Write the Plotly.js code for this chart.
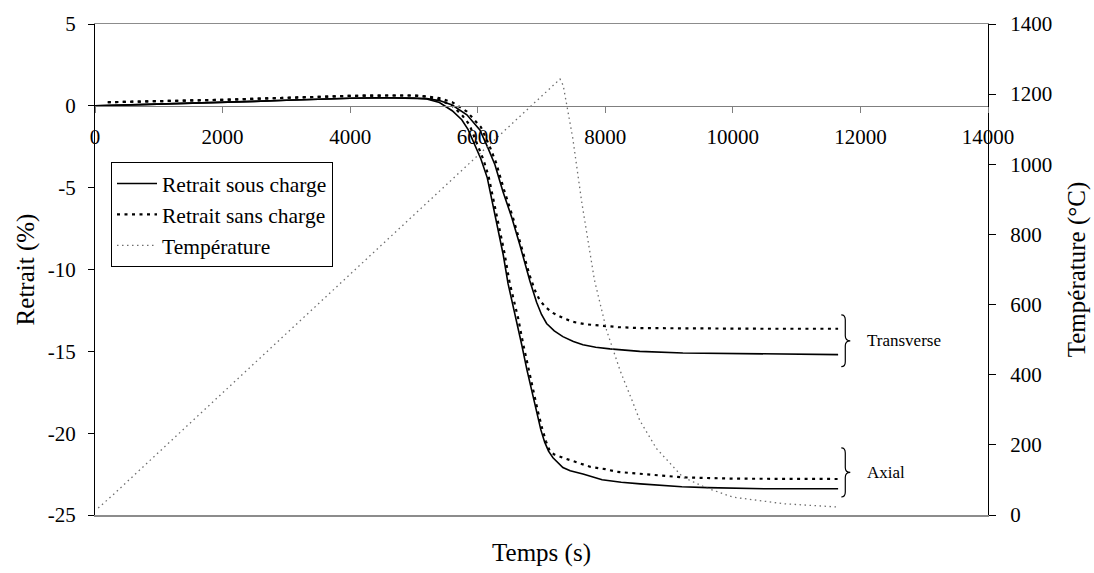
<!DOCTYPE html>
<html>
<head>
<meta charset="utf-8">
<script src="https://cdn.plot.ly/plotly-3.0.1.min.js"></script>
<style>html,body{margin:0;padding:0;background:#fff;}#chart{width:1094px;height:573px;}</style>
</head>
<body>
<div id="chart"></div>
<script>
// ---- Data ----
const tAxialSous = [0, 500, 1000, 1500, 2000, 2500, 3000, 3500, 4000, 4500, 5000, 5200, 5400, 5600, 5750, 5850, 5950, 6050, 6150, 6225, 6300, 6400, 6475, 6550, 6610, 6690, 6770, 6850, 6920, 6990, 7050, 7110, 7180, 7250, 7335, 7450, 7650, 7950, 8250, 8550, 8900, 9200, 9600, 10000, 10500, 11000, 11650];
const retraitAxialSous = [0, 0.05, 0.1, 0.14, 0.2, 0.27, 0.34, 0.41, 0.46, 0.49, 0.48, 0.42, 0.2, -0.3, -0.85, -1.45, -2.3, -3.25, -4.4, -5.8, -7.25, -9.1, -10.85, -12.1, -13.1, -14.6, -16.1, -17.5, -18.7, -19.8, -20.55, -21.1, -21.5, -21.8, -22.1, -22.3, -22.5, -22.85, -23.0, -23.1, -23.2, -23.27, -23.33, -23.38, -23.4, -23.4, -23.4];

const tTransSous = [0, 500, 1000, 1500, 2000, 2500, 3000, 3500, 4000, 4500, 5000, 5200, 5400, 5600, 5830, 6034, 6160, 6270, 6395, 6536, 6661, 6766, 6818, 6923, 7000, 7080, 7200, 7335, 7500, 7649, 7850, 8072, 8542, 9216, 10266, 11650];
const retraitTransSous = [0, 0.05, 0.1, 0.14, 0.2, 0.27, 0.34, 0.41, 0.46, 0.49, 0.48, 0.44, 0.32, 0.05, -0.55, -1.47, -2.57, -3.6, -5.23, -6.85, -8.5, -10.0, -10.7, -12.0, -12.75, -13.3, -13.75, -14.1, -14.4, -14.6, -14.75, -14.85, -15.0, -15.1, -15.15, -15.2];

const tTransSans = [200, 500, 1000, 1500, 2000, 2500, 3000, 3500, 4000, 4500, 5000, 5200, 5400, 5600, 5830, 6050, 6180, 6290, 6410, 6550, 6680, 6818, 6900, 6975, 7080, 7179, 7330, 7492, 7700, 7915, 8200, 8542, 9500, 10500, 11650];
const retraitTransSans = [0.22, 0.24, 0.28, 0.32, 0.37, 0.43, 0.5, 0.56, 0.61, 0.63, 0.63, 0.58, 0.47, 0.22, -0.35, -1.3, -2.4, -3.5, -5.1, -6.8, -8.5, -10.4, -11.3, -11.9, -12.35, -12.65, -12.95, -13.2, -13.35, -13.44, -13.52, -13.58, -13.62, -13.62, -13.62];

const tAxialSans = [200, 500, 1000, 1500, 2000, 2500, 3000, 3500, 4000, 4500, 5000, 5200, 5400, 5600, 5750, 5870, 5980, 6090, 6170, 6245, 6325, 6420, 6500, 6570, 6635, 6710, 6790, 6870, 6945, 7010, 7070, 7131, 7200, 7335, 7550, 7759, 8000, 8181, 8542, 9216, 10000, 11650];
const retraitAxialSans = [0.22, 0.24, 0.28, 0.32, 0.37, 0.43, 0.5, 0.56, 0.61, 0.63, 0.63, 0.55, 0.38, 0.0, -0.55, -1.15, -2.2, -3.3, -4.3, -5.75, -7.2, -9.0, -10.8, -12.0, -13.0, -14.5, -16.0, -17.4, -18.7, -19.7, -20.5, -21.1, -21.3, -21.5, -21.8, -22.05, -22.2, -22.36, -22.48, -22.7, -22.78, -22.8];

const tTemp = [50, 280, 1000, 2000, 3000, 4000, 5000, 6000, 7000, 7290, 7340, 7400, 7490, 7630, 7760, 7830, 8020, 8230, 8430, 8540, 8800, 9215, 9590, 10000, 10800, 11630];
const temperature = [20, 57, 179, 348, 517, 686, 855, 1024, 1194, 1243, 1225, 1168, 1075, 893, 751, 670, 527, 413, 322, 270, 190, 108, 77, 51, 32, 23];

const seriesNames = ['Retrait sous charge', 'Retrait sans charge', 'Température'];
const groupLabels = ['Transverse', 'Axial'];
const xTickVals = [0, 2000, 4000, 6000, 8000, 10000, 12000, 14000];
const xTickText = ['0', '2000', '4000', '6000', '8000', '10000', '12000', '14000'];
const yTickVals = [5, 0, -5, -10, -15, -20, -25];
const yTickText = ['5', '0', '-5', '-10', '-15', '-20', '-25'];
const y2TickVals = [0, 200, 400, 600, 800, 1000, 1200, 1400];
const y2TickText = ['0', '200', '400', '600', '800', '1000', '1200', '1400'];
const xRange = [0, 14000];
const yRange = [-25, 5];
const y2Range = [0, 1400];

// ---- Styling ----
const FONT = 'Liberation Serif, Times New Roman, serif';
const W = 1094, H = 573;
const M = {l: 95, r: 106, t: 24, b: 58};
const plotW = W - M.l - M.r, plotH = H - M.t - M.b;
const pxX = (xRange[1] - xRange[0]) / plotW;
const pxY = (yRange[1] - yRange[0]) / plotH;

const solid = {color: '#000', width: 1.6};
const dotted = {color: '#000', width: 2.2, dash: '3px,4.5px'};
const tempLine = {color: '#6e6e6e', width: 1.3, dash: '1.5px,3.5px'};

const traces = [
  {x: tAxialSous, y: retraitAxialSous, name: seriesNames[0], legendgroup: 'sous', mode: 'lines', line: solid, showlegend: true},
  {x: tTransSous, y: retraitTransSous, name: seriesNames[0], legendgroup: 'sous', mode: 'lines', line: solid, showlegend: false},
  {x: tAxialSans, y: retraitAxialSans, name: seriesNames[1], legendgroup: 'sans', mode: 'lines', line: dotted, showlegend: true},
  {x: tTransSans, y: retraitTransSans, name: seriesNames[1], legendgroup: 'sans', mode: 'lines', line: dotted, showlegend: false},
  {x: tTemp, y: temperature, name: seriesNames[2], mode: 'lines', line: tempLine, xaxis: 'x2', yaxis: 'y2'}
];

function bracePath(x0, yTop, yBot) {
  const w = 4 * pxX, tip = 9 * pxX, r = 5 * pxY;
  const xm = x0 + w, ym = (yTop + yBot) / 2;
  return `M${x0},${yTop} Q${xm},${yTop} ${xm},${yTop - r} L${xm},${ym + r} Q${xm},${ym} ${x0 + tip},${ym} ` +
         `Q${xm},${ym} ${xm},${ym - r} L${xm},${yBot + r} Q${xm},${yBot} ${x0},${yBot}`;
}
const braceX = 11700;
const braces = [[-12.77, -15.94], [-20.9, -23.9]];

const tickFont = {family: FONT, size: 21, color: '#000'};
const titleFont = {family: FONT, size: 25, color: '#000'};

const layout = {
  width: W, height: H,
  margin: M,
  paper_bgcolor: '#fff', plot_bgcolor: '#fff',
  font: {family: FONT, color: '#000'},
  showlegend: true,
  legend: {
    x: 16 / plotW, y: 1 - (162 - M.t) / plotH, xanchor: 'left', yanchor: 'top',
    bordercolor: '#000', borderwidth: 1, bgcolor: '#fff',
    font: {family: FONT, size: 21.5, color: '#000'}, tracegroupgap: 0, itemwidth: 40
  },
  xaxis: {
    range: xRange, tickmode: 'array', tickvals: xTickVals, ticktext: xTickText,
    anchor: 'free', position: (0 - yRange[0]) / (yRange[1] - yRange[0]),
    showline: true, linecolor: '#7f7f7f', linewidth: 1.5,
    ticks: 'outside', ticklen: 6, tickcolor: '#7f7f7f', tickwidth: 1,
    showgrid: false, zeroline: false, tickfont: tickFont, ticklabelstandoff: 5,
    automargin: false
  },
  xaxis2: {
    range: xRange, overlaying: 'x', anchor: 'y2', side: 'bottom',
    showline: true, mirror: true, linecolor: '#8c8c8c', linewidth: 1.5,
    ticks: '', showticklabels: false, showgrid: false, zeroline: false,
    title: {text: 'Temps (s)', font: titleFont, standoff: 28},
    automargin: false
  },
  yaxis: {
    range: yRange, tickmode: 'array', tickvals: yTickVals, ticktext: yTickText,
    showline: true, linecolor: '#000', linewidth: 1,
    ticks: 'outside', ticklen: 6, tickcolor: '#000',
    showgrid: false, zeroline: false, tickfont: tickFont, ticklabelstandoff: 8,
    title: {text: 'Retrait (%)', font: titleFont, standoff: 6},
    automargin: false
  },
  yaxis2: {
    range: y2Range, tickmode: 'array', tickvals: y2TickVals, ticktext: y2TickText,
    overlaying: 'y', side: 'right', anchor: 'x2',
    showline: true, linecolor: '#000', linewidth: 1,
    ticks: 'outside', ticklen: 7, tickcolor: '#000',
    showgrid: false, zeroline: false, tickfont: tickFont, ticklabelstandoff: 10,
    title: {text: 'Température (°C)', font: titleFont, standoff: 16},
    automargin: false
  },
  yaxis3: {
    range: y2Range, tickmode: 'array', tickvals: y2TickVals, overlaying: 'y', side: 'right', anchor: 'x',
    showline: false, ticks: 'inside', ticklen: 7, tickcolor: '#000',
    showticklabels: false, showgrid: false, zeroline: false, automargin: false
  },
  shapes: braces.map(b => ({type: 'path', xref: 'x', yref: 'y', path: bracePath(braceX, b[0], b[1]),
                            line: {color: '#000', width: 1.2}})),
  annotations: groupLabels.map((txt, i) => ({
    x: braceX + 24 * pxX, y: (braces[i][0] + braces[i][1]) / 2, xref: 'x', yref: 'y',
    text: txt, showarrow: false, xanchor: 'left', yanchor: 'middle',
    font: {family: FONT, size: 17, color: '#000'}
  }))
};

Plotly.newPlot('chart', traces, layout, {staticPlot: true, displayModeBar: false});
</script>
</body>
</html>
